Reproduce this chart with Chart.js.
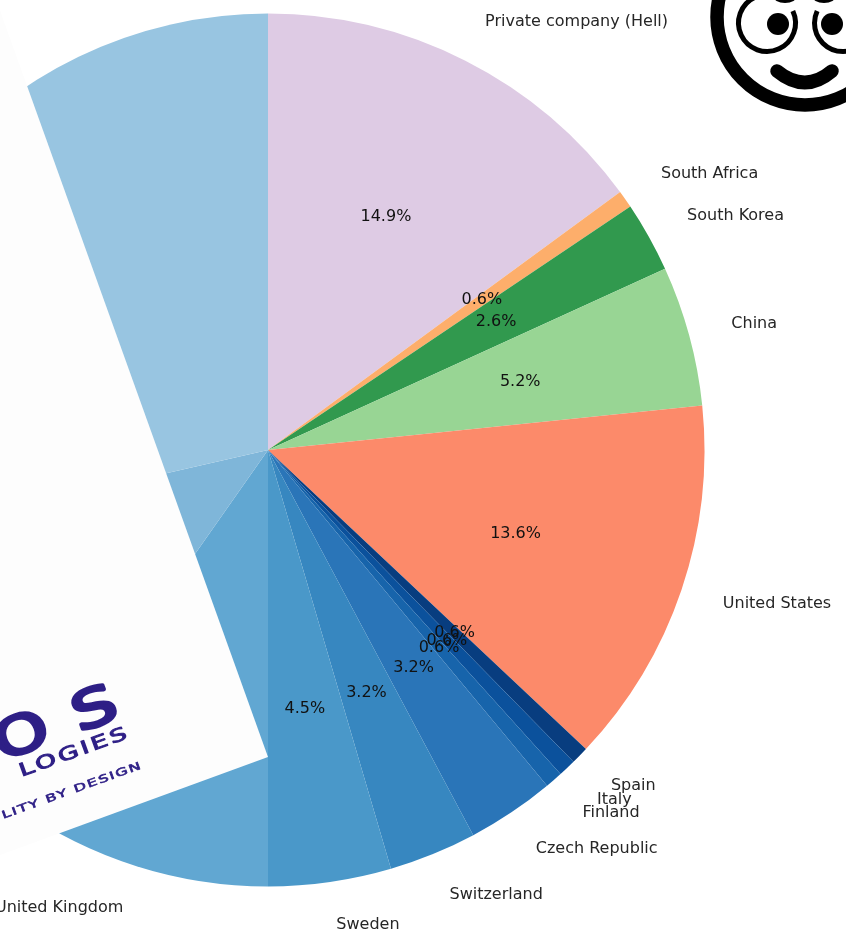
<!DOCTYPE html>
<html>
<head>
<meta charset="utf-8">
<script src="https://cdn.jsdelivr.net/npm/chart.js@4/dist/chart.umd.min.js"></script>
<style>
html,body{margin:0;padding:0;background:#fff;overflow:hidden;width:846px;height:937px}
#wrap{position:fixed;left:0;top:0;width:846px;height:937px;overflow:hidden}
#c{position:absolute;left:-432px;top:-250px}
</style>
</head>
<body>
<div id="wrap"><canvas id="c" width="1400" height="1400"></canvas></div>
<script>
const categories = ["Private company (Hell)","South Africa","South Korea","China","United States","Spain","Italy","Finland","Czech Republic","Switzerland","Sweden","United Kingdom","",""];
const counts = [23,1,4,8,21,1,1,1,5,5,7,15,18,44];
const sliceColors = ["#decbe4","#fdae6b","#31994e","#98d594","#fc8a6a","#083d7f","#0b519c","#1764ab","#2a75b8","#3787c0","#4a98c9","#61a7d2","#7fb6d9","#98c5e1"];
const logoWords = ["O","S","LOGIES","LITY BY DESIGN"];

const OFFSET_X = -432, OFFSET_Y = -250;
const FONT = '"DejaVu Sans"';

const pieText = {
  id:'pieText',
  afterDatasetsDraw(chart){
    const ctx = chart.ctx;
    const total = counts.reduce((a,b)=>a+b,0);
    const arcs = chart.getDatasetMeta(0).data;
    ctx.save();
    ctx.font = '16px '+FONT;
    arcs.forEach((a,i)=>{
      const mid = (a.startAngle+a.endAngle)/2;
      const lx = a.x+Math.cos(mid)*a.outerRadius*1.1, ly = a.y+Math.sin(mid)*a.outerRadius*1.1;
      ctx.textBaseline='middle';
      ctx.fillStyle='#262626';
      ctx.textAlign = lx>=a.x ? 'left':'right';
      if(categories[i]) ctx.fillText(categories[i],lx,ly);
      const px = a.x+Math.cos(mid)*a.outerRadius*0.6, py = a.y+Math.sin(mid)*a.outerRadius*0.6;
      ctx.textAlign='center';
      ctx.fillStyle='#111';
      ctx.fillText((counts[i]/total*100).toFixed(1)+'%',px-0.5,py);
    });
    ctx.restore();
  },
  afterDraw(chart){
    const ctx = chart.ctx;
    ctx.save();
    ctx.translate(-OFFSET_X,-OFFSET_Y);
    // rotated white logo card
    ctx.fillStyle='#fdfdfd';
    ctx.beginPath();
    ctx.moveTo(-30,-73);ctx.lineTo(268,757);ctx.lineTo(-30,866);ctx.closePath();ctx.fill();
    // logo words
    ctx.fillStyle='#2e1f86';ctx.strokeStyle='#2e1f86';ctx.lineJoin='round';
    const rot=-20*Math.PI/180;
    const word=(t,x,y,font,sx,spacing,lw)=>{
      ctx.save();ctx.translate(x,y);ctx.rotate(rot);ctx.scale(sx,1);
      ctx.font=font;ctx.textAlign='right';ctx.textBaseline='alphabetic';
      ctx.letterSpacing=spacing;
      ctx.fillText(t,0,0);
      if(lw){ctx.lineWidth=lw;ctx.strokeText(t,0,0);}
      ctx.restore();
    };
    word(logoWords[0],53,742,'52px '+FONT,1.35,'0px',3.5);
    word(logoWords[1],121,717,'52px '+FONT,1.35,'0px',3.5);
    word(logoWords[2],131,737,'18px '+FONT,1.5,'2px',1);
    word(logoWords[3],143,768,'10.5px '+FONT,1.55,'1px',0.6);
    // face icon
    ctx.strokeStyle='#000';ctx.fillStyle='#000';ctx.lineCap='butt';
    ctx.lineWidth=13.5;ctx.beginPath();ctx.arc(805,17,88,0,Math.PI*2);ctx.stroke();
    ctx.lineWidth=5;
    ctx.beginPath();ctx.arc(767,23,28.5,-25*Math.PI/180,270*Math.PI/180);ctx.stroke();
    ctx.beginPath();ctx.arc(843,23,28.5,-90*Math.PI/180,205*Math.PI/180);ctx.stroke();
    [[778,24],[832,24]].forEach(p=>{ctx.beginPath();ctx.arc(p[0],p[1],11,0,Math.PI*2);ctx.fill();});
    [[785,-4],[824,-4]].forEach(p=>{ctx.beginPath();ctx.ellipse(p[0],p[1],12,7,0,0,Math.PI*2);ctx.fill();});
    ctx.lineCap='round';ctx.lineWidth=13.5;
    ctx.beginPath();ctx.moveTo(777,71);ctx.quadraticCurveTo(805,94,832,71);ctx.stroke();
    ctx.restore();
  }
};

new Chart(document.getElementById('c'),{
  type:'pie',
  data:{labels:categories,datasets:[{data:counts,backgroundColor:sliceColors,borderWidth:0}]},
  options:{
    responsive:false,animation:false,
    layout:{padding:263.5},
    plugins:{legend:{display:false},tooltip:{enabled:false},title:{display:false}}
  },
  plugins:[pieText]
});
</script>
</body>
</html>
